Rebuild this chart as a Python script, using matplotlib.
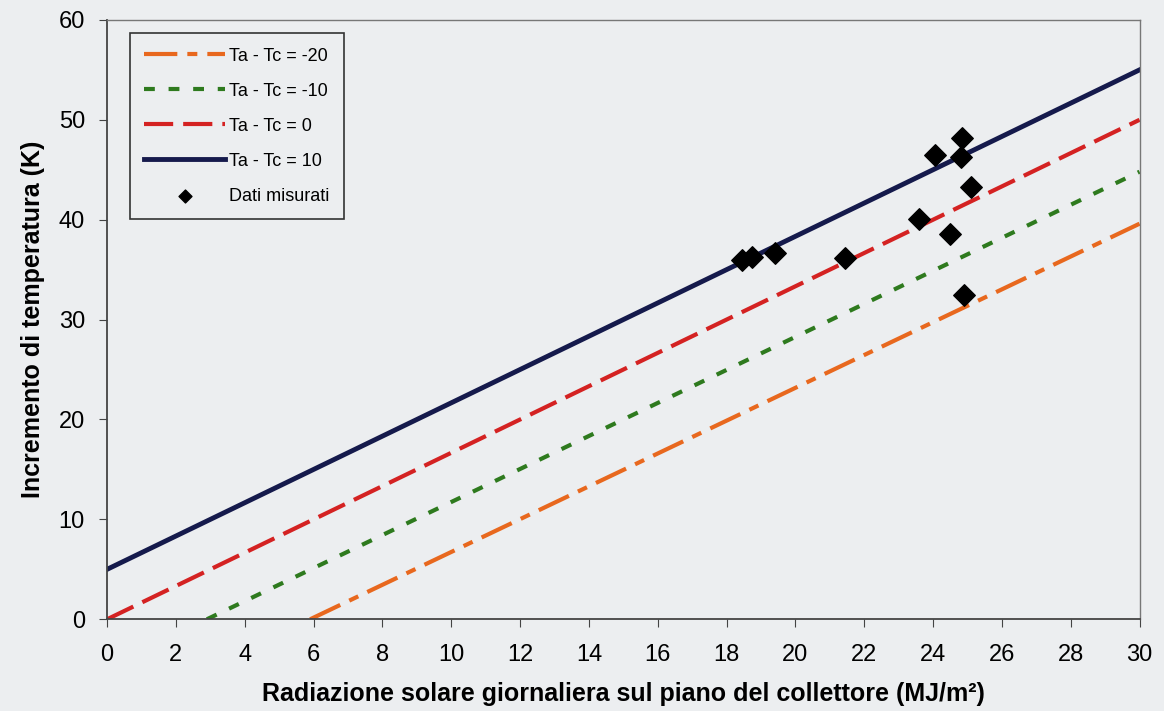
import matplotlib
matplotlib.use("Agg")
import matplotlib.pyplot as plt

plt.rcParams["font.family"] = ["Liberation Sans", "DejaVu Sans"]

# model lines (endpoints)
x_m20 = [5.9, 30]
y_m20 = [0, 39.6]
x_m10 = [2.9, 30]
y_m10 = [0, 44.8]
x_0 = [0, 30]
y_0 = [0, 50]
x_10 = [0, 30]
y_10 = [5, 55]

# measured data
x_meas = [18.45, 18.75, 19.4, 21.45, 23.6, 24.05, 24.5, 24.8, 24.85, 25.1, 24.9]
y_meas = [36.0, 36.3, 36.7, 36.2, 40.1, 46.5, 38.6, 46.3, 48.2, 43.3, 32.5]

bg = "#eceef0"
fig = plt.figure(figsize=(11.64, 7.11), dpi=100, facecolor=bg)
ax = fig.add_axes([0.092, 0.129, 0.887, 0.843], facecolor=bg)

ax.plot(x_m20, y_m20, color="#e8681e", linewidth=3,
        dashes=(8, 2.4, 2.4, 2.4), label="Ta - Tc = -20")
ax.plot(x_m10, y_m10, color="#2e7a1e", linewidth=3,
        dashes=(2.6, 3.3), label="Ta - Tc = -10")
ax.plot(x_0, y_0, color="#d42222", linewidth=3,
        dashes=(7, 2.4), label="Ta - Tc = 0")
ax.plot(x_10, y_10, color="#151a4c", linewidth=3.5, label="Ta - Tc = 10")
ax.scatter(x_meas, y_meas, marker="D", s=120, color="black", zorder=5,
           label="Dati misurati")

ax.set_xlim(0, 30)
ax.set_ylim(0, 60)
ax.set_xticks(range(0, 31, 2))
ax.set_yticks(range(0, 61, 10))
ax.tick_params(axis="both", labelsize=17, direction="out", length=6,
               color="#444444")
ax.tick_params(axis="x", pad=12)
ax.tick_params(axis="y", pad=10)
for side in ["left", "bottom"]:
    ax.spines[side].set_color("#444444")
    ax.spines[side].set_linewidth(1.3)
for side in ["top", "right"]:
    ax.spines[side].set_color("#777777")
    ax.spines[side].set_linewidth(1.0)

ax.set_xlabel("Radiazione solare giornaliera sul piano del collettore (MJ/m²)",
              fontsize=18, fontweight="bold", labelpad=11)
ax.set_ylabel("Incremento di temperatura (K)", fontsize=18,
              fontweight="bold", labelpad=10)

leg = ax.legend(loc="upper left", bbox_to_anchor=(0.022, 0.978),
                borderaxespad=0, fontsize=13, handlelength=4.5,
                labelspacing=1.0, fancybox=False, framealpha=1,
                facecolor=bg, edgecolor="#333333", borderpad=0.8,
                handletextpad=0.2, markerscale=0.6)
leg.get_frame().set_linewidth(1.2)

fig.savefig("out.png", dpi=100, facecolor=bg)
